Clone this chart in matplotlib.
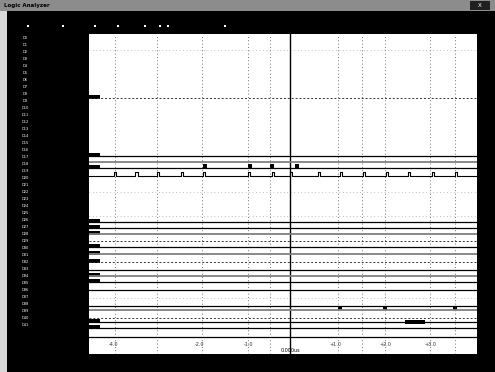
import matplotlib
matplotlib.use("Agg")
import matplotlib.pyplot as plt
import numpy as np

# --- data: logic analyzer capture (time in % of window, rows in screen units) ---
grid_t = [6.7, 17.5, 29.1, 41.0, 46.6, 64.2, 70.4, 76.3, 87.9, 94.3]
cursor_t = 51.8
tick_t = [6.4, 28.6, 41.0, 63.4, 76.3, 87.9]
tick_labels = ["-4.0", "-2.0", "-1.0", "+1.0", "+2.0", "+3.0"]
cursor_label = "0.000us"

# rows: (level, style) style: s=solid, g=grey, d=dotted, f=faint
rows_y = [50, 98, 156, 162, 168, 192, 216, 222, 228, 234, 241, 247, 254, 262,
          270, 276, 282, 290, 298, 306, 310, 318, 322, 328, 337]
rows_style = ["f", "d", "s", "g", "s", "f", "f", "s", "s", "g", "d", "s", "g", "d",
              "s", "g", "s", "s", "f", "s", "g", "d", "s", "s", "s"]

clock_y = 176
clock_pulses = [6.4, 11.9, 17.5, 23.7, 29.4, 41.0, 47.2, 51.8, 59.0, 64.7, 70.6,
                76.5, 82.2, 88.4, 94.3]
bus_y = 168
bus_marks = [29.9, 41.5, 47.2, 53.6]
low_y = 310
low_marks = [64.7, 76.3, 94.3]
block_y = 322
block_span = (81.4, 86.6)
name_rows = [98, 156, 168, 222, 228, 234, 247, 254, 262, 276, 282, 322, 328]

channel_names = ["D%d" % i for i in range(42)]
toolbar_x = [28, 63, 95, 118, 145, 160, 168, 225]

W, H = 495, 372
fig = plt.figure(figsize=(W / 100, H / 100), dpi=100, facecolor="black")

# window chrome in pixel units
bg = fig.add_axes([0, 0, 1, 1])
bg.set_xlim(0, W)
bg.set_ylim(H, 0)
bg.axis("off")
bg.add_patch(plt.Rectangle((0, 0), W, 11, color="#8c8c8c", lw=0))
bg.add_patch(plt.Rectangle((0, 11), 7, H - 11, color="#d8d8d8", lw=0))
bg.text(4, 5.5, "Logic Analyzer", color="black", fontsize=4, va="center",
        fontweight="bold")
bg.add_patch(plt.Rectangle((470, 1), 20, 9, color="#202020", lw=0))
bg.text(480, 5.5, "X", color="white", fontsize=4, va="center", ha="center")
bg.scatter(toolbar_x, [26] * len(toolbar_x), s=3, color="white", marker="s", lw=0)
for i, name in enumerate(channel_names):
    bg.text(25, 38 + 7 * i, name, color="white", fontsize=2.6, va="center",
            ha="center")

# waveform area
x0, x1, y0, y1 = 89, 477, 34, 354
ax = fig.add_axes([x0 / W, 1 - y1 / H, (x1 - x0) / W, (y1 - y0) / H])
ax.set_facecolor("white")
ax.set_xlim(0, 100)
ax.set_ylim(y1, y0)
for s in ax.spines.values():
    s.set_visible(False)
ax.set_xticks([])
ax.set_yticks([])

for t in grid_t:
    ax.axvline(t, color="#444444", lw=0.6, ls=(0, (1, 3)))
ax.axvline(cursor_t, color="black", lw=1.0)

styles = {"s": dict(color="black", lw=0.9, ls="-"),
          "g": dict(color="#808080", lw=1.3, ls="-"),
          "d": dict(color="#333333", lw=0.7, ls=(0, (2, 2))),
          "f": dict(color="#888888", lw=0.5, ls=(0, (1, 4)))}
for yv, st in zip(rows_y, rows_style):
    ax.plot([0, 100], [yv, yv], **styles[st])

# clock line with short pulses
tx, ty = [0], [clock_y]
for p in clock_pulses:
    tx += [p, p, p + 0.6, p + 0.6]
    ty += [clock_y, clock_y - 4, clock_y - 4, clock_y]
tx.append(100)
ty.append(clock_y)
ax.plot(tx, ty, color="black", lw=0.8)

ax.scatter(bus_marks, [bus_y - 2] * len(bus_marks), marker="s", s=10,
           color="black", lw=0)
ax.scatter(low_marks, [low_y - 2] * len(low_marks), marker="s", s=8,
           color="black", lw=0)
ax.fill_between(block_span, block_y - 2, block_y + 2, color="black", lw=0)
for yv in name_rows:
    ax.fill_between([0, 2.8], yv - 3, yv + 1, color="black", lw=0)

for t, lab in zip(tick_t, tick_labels):
    ax.text(t, 345, lab, fontsize=3.5, ha="center", va="center", color="#333333")
ax.text(cursor_t, 351, cursor_label, fontsize=3.5, ha="center", va="center",
        color="black")

fig.savefig("out.png", dpi=100, facecolor="black")
